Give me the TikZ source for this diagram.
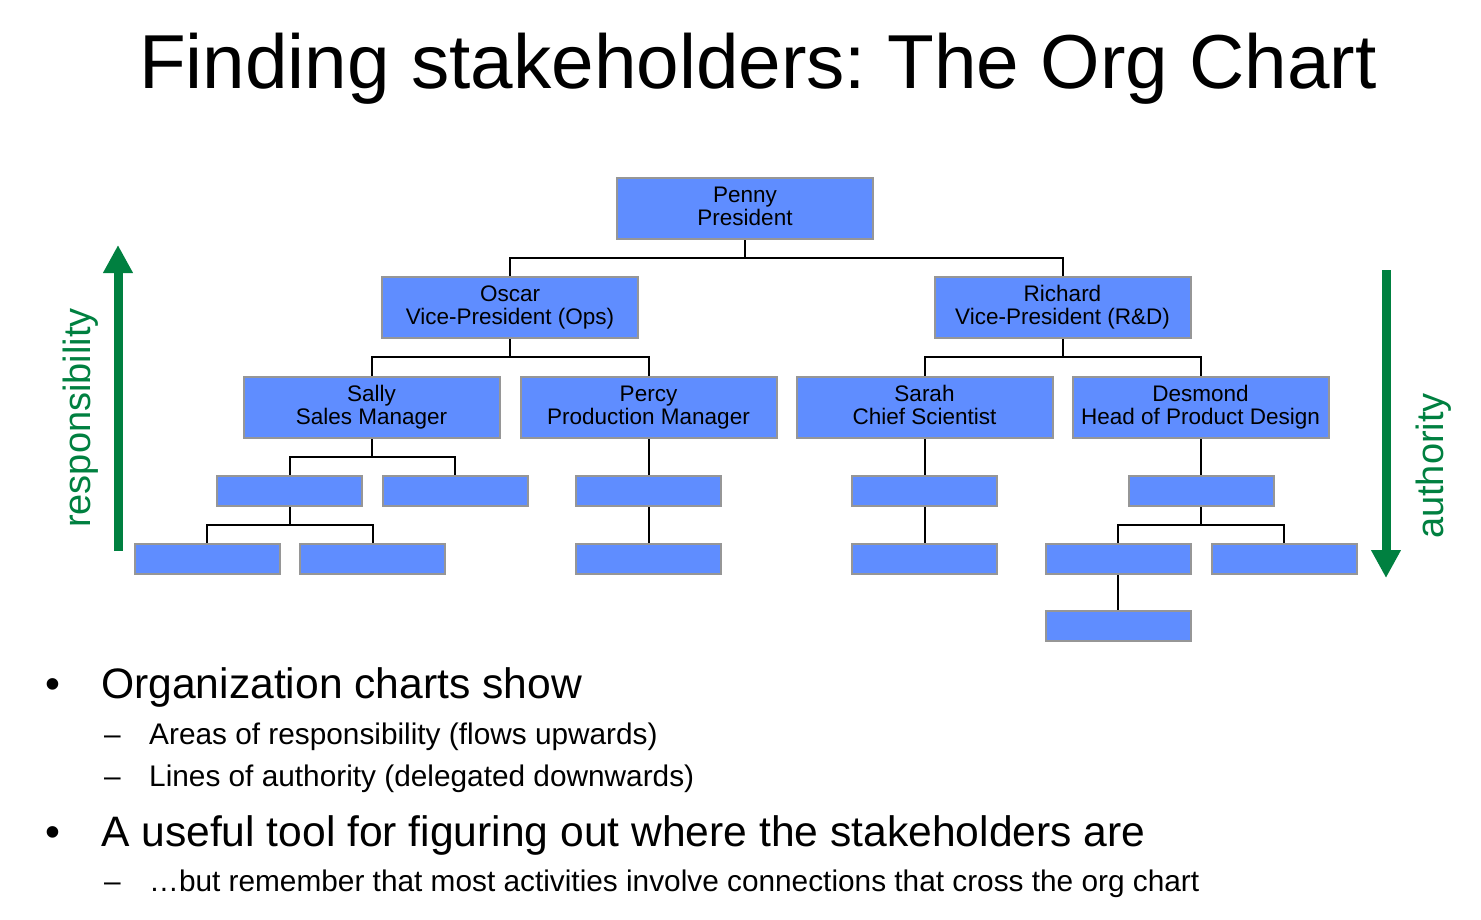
\documentclass[tikz,border=0pt]{standalone}
\usepackage{fontspec}
\setmainfont{Liberation Sans}
\frenchspacing
\usetikzlibrary{arrows.meta,calc,backgrounds}
\definecolor{boxblue}{RGB}{95,141,255}
\definecolor{boxedge}{RGB}{150,150,150}
\definecolor{flowgreen}{RGB}{0,128,64}
% fixed-height rules so every box centres its two lines alike
\newcommand{\rolelines}[2]{\rule{0pt}{17.5pt}#1\\#2\rule[-6pt]{0pt}{6pt}}

\begin{document}
\begin{tikzpicture}[x=1pt,y=-1pt,
  role/.style={draw=boxedge,fill=boxblue,line width=2pt,minimum width=256pt,
    minimum height=61pt,inner sep=0pt,align=center,
    font=\fontsize{22.5}{23.5}\selectfont},
  unit/.style={draw=boxedge,fill=boxblue,line width=2pt,minimum width=145pt,
    minimum height=30pt,inner sep=0pt},
  link/.style={draw=black,line width=2pt},
  orgedge/.style={to path={(\tikztostart) |- ($(\tikztostart)!.5!(\tikztotarget)$) -| (\tikztotarget)}},
  flow/.style={draw=flowgreen,line width=9pt,-{Triangle[width=28pt,length=28pt]}},
  flowlabel/.style={text=flowgreen,rotate=90,font=\fontsize{38}{40}\selectfont},
  headline/.style={anchor=base west,inner sep=0pt,font=\fontsize{76.5}{90}\selectfont},
  bigbullet/.style={anchor=base west,inner sep=0pt,font=\fontsize{42.6}{50}\selectfont},
  smallbullet/.style={anchor=base west,inner sep=0pt,font=\fontsize{29.8}{36}\selectfont},
]
\useasboundingbox (0,0) rectangle (1481,919);

% title
\node[headline] (title) at (139,88) {Finding stakeholders: The Org Chart};

% management boxes
\node[role] (penny)   at (745,208)    {\rolelines{Penny}{President}};
\node[role] (oscar)   at (510,307)    {\rolelines{Oscar}{Vice-President (Ops)}};
\node[role] (richard) at (1062.5,307) {\rolelines{Richard}{Vice-President (R\&D)}};
\node[role] (sally)   at (371.5,407)  {\rolelines{Sally}{Sales Manager}};
\node[role] (percy)   at (648.5,407)  {\rolelines{Percy}{Production Manager}};
\node[role] (sarah)   at (924.5,407)  {\rolelines{Sarah}{Chief Scientist}};
\node[role] (desmond) at (1200.5,407) {\rolelines{Desmond}{Head of Product Design}};

% unnamed staff boxes
\node[unit] (s1)  at (289.5,490.5) {};
\node[unit] (s2)  at (455,490.5)   {};
\node[unit] (s11) at (207,558.5)   {};
\node[unit] (s12) at (372.5,558.5) {};
\node[unit] (p1)  at (648.5,490.5) {};
\node[unit] (p11) at (648.5,558.5) {};
\node[unit] (r1)  at (924.5,490.5) {};
\node[unit] (r11) at (924.5,558.5) {};
\node[unit] (d1)  at (1201,490.5)  {};
\node[unit] (d11) at (1118,558.5)  {};
\node[unit] (d12) at (1284,558.5)  {};
\node[unit] (d111) at (1118,625.5) {};

% reporting lines
\begin{scope}[on background layer]
\draw[link] (penny.south) to[orgedge] (oscar.north);
\draw[link] (penny.south) to[orgedge] (richard.north);
\draw[link] (oscar.south) to[orgedge] (sally.north);
\draw[link] (oscar.south) to[orgedge] (percy.north);
\draw[link] (richard.south) to[orgedge] (sarah.north);
\draw[link] (richard.south) to[orgedge] (desmond.north);
\draw[link] (sally.south) to[orgedge] (s1.north);
\draw[link] (sally.south) to[orgedge] (s2.north);
\draw[link] (s1.south) to[orgedge] (s11.north);
\draw[link] (s1.south) to[orgedge] (s12.north);
\draw[link] (percy.south) -- (p1.north);
\draw[link] (p1.south) -- (p11.north);
\draw[link] (sarah.south) -- (r1.north);
\draw[link] (r1.south) -- (r11.north);
\draw[link] (desmond.south) to[orgedge] (d1.north);
\draw[link] (d1.south) to[orgedge] (d11.north);
\draw[link] (d1.south) to[orgedge] (d12.north);
\draw[link] (d11.south) -- (d111.north);
\end{scope}

% flow arrows
\coordinate (respfoot) at (118,551);
\coordinate (resptip)  at (118,245);
\coordinate (authtop)  at (1386,270);
\coordinate (authtip)  at (1386,578);
\draw[flow] (respfoot) -- (resptip);
\draw[flow] (authtop) -- (authtip);
\node[flowlabel] (resp) at (81,418) {responsibility};
\node[flowlabel] (auth) at (1434,466) {authority};

% bullet list
\node[bigbullet] (b1) at (45,698) {•};
\node[bigbullet] (t1) at (101,698) {Organization charts show};
\node[smallbullet] (d1a) at (104,744) {–};
\node[smallbullet] (t1a) at (149,744) {Areas of responsibility (flows upwards)};
\node[smallbullet] (d1b) at (104,786) {–};
\node[smallbullet] (t1b) at (149,786) {Lines of authority (delegated downwards)};
\node[bigbullet] (b2) at (45,846) {•};
\node[bigbullet] (t2) at (101,846) {A useful tool for figuring out where the stakeholders are};
\node[smallbullet] (d2a) at (104,891) {–};
\node[smallbullet] (t2a) at (149,891) {…but remember that most activities involve connections that cross the org chart};
\end{tikzpicture}
\end{document}
